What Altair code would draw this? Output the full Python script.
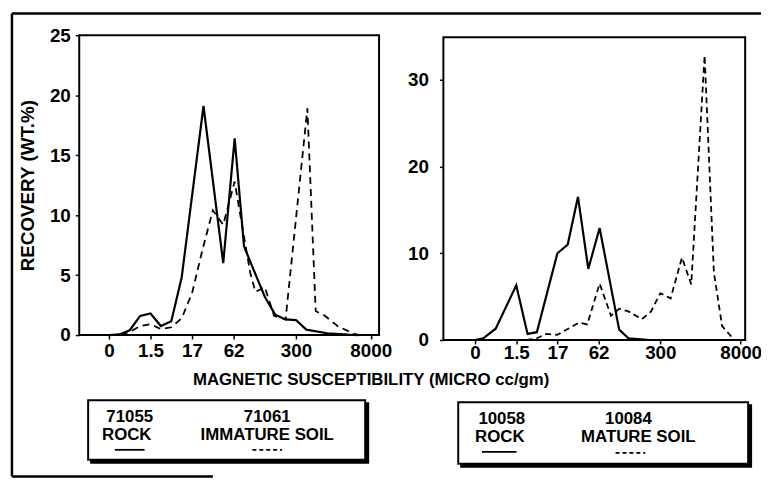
import altair as alt
import pandas as pd

# ---------------- data ----------------
tick_labels = ["0", "1.5", "17", "62", "300", "8000"]
tick_pos_left = [0, 2, 4, 6, 9, 12.6]
tick_pos_right = [0, 2, 4, 6, 9, 12.9]

# left panel: 71055 rock (solid), 71061 immature soil (dashed)
left_rock_u = [0, 0.5, 1, 1.5, 2, 2.5, 3, 3.5, 4.55, 5.5, 6.05, 6.5, 6.95, 7.5, 8, 8.5, 9, 9.5, 10.5, 11.5, 12]
left_rock_y = [0, 0.05, 0.4, 1.6, 1.8, 0.75, 1.15, 4.8, 19.1, 6.0, 16.4, 7.4, 5.5, 3.2, 1.7, 1.3, 1.25, 0.45, 0.15, 0.03, 0]
left_soil_u = [0, 0.5, 1, 1.5, 2, 2.5, 3, 3.5, 4, 4.5, 5.0, 5.5, 6.05, 6.45, 6.8, 7.05, 7.5, 7.95, 8.5, 9.55, 9.95, 10.4, 11, 11.8, 12.05]
left_soil_y = [0, 0, 0.25, 0.75, 0.9, 0.5, 0.65, 1.4, 3.5, 7.1, 10.4, 9.2, 12.8, 8.7, 5.2, 3.6, 4.0, 1.6, 1.3, 18.9, 2.0, 1.6, 0.75, 0.1, 0]

# right panel: 10058 rock (solid), 10084 mature soil (dashed)
right_rock_u = [0, 0.4, 1.0, 2.0, 2.55, 3.0, 4.0, 4.5, 5.0, 5.5, 6.05, 7.0, 7.45, 8.5, 9.0]
right_rock_y = [0, 0.2, 1.3, 6.3, 0.7, 0.9, 10.0, 11.0, 16.5, 8.2, 12.9, 1.2, 0.2, 0, 0]
right_soil_u = [2.5, 3.0, 3.45, 4.0, 5.05, 5.45, 6.05, 6.6, 7.0, 7.45, 8.1, 8.55, 9.0, 9.5, 10.05, 10.5, 11.15, 11.6, 12.0, 12.6]
right_soil_y = [0, 0.2, 0.7, 0.6, 2.0, 1.8, 6.5, 2.8, 3.6, 3.3, 2.4, 3.3, 5.4, 4.8, 9.5, 6.4, 32.8, 7.8, 1.6, 0]

left_yticks = [0, 5, 10, 15, 20, 25]
right_yticks = [0, 10, 20, 30]

y_title = "RECOVERY (WT.%)"
x_title = "MAGNETIC SUSCEPTIBILITY (MICRO cc/gm)"
legend_left = ["71055", "ROCK", "71061", "IMMATURE SOIL"]
legend_right = ["10058", "ROCK", "10084", "MATURE SOIL"]

# ---------------- layout / style ----------------
FONT = "Liberation Sans"
W, H = 761, 475
one = pd.DataFrame({"a": [0]})


def label_expr(pos, labels):
    expr = "''"
    for p, l in reversed(list(zip(pos, labels))):
        expr = f"datum.value == {p} ? '{l}' : ({expr})"
    return expr


def panel(ru, ry, su, sy, xdom, xrng, ydom, yrng, yvals, tpos, xoff, yoff,
          ylabpad, xlabpad, dash):
    xs = alt.Scale(domain=xdom, range=xrng, nice=False, zero=False)
    ys = alt.Scale(domain=ydom, range=yrng, nice=False, zero=False)
    xa = alt.Axis(orient="bottom", offset=xoff, values=tpos,
                  labelExpr=label_expr(tpos, tick_labels), title=None,
                  domain=False, grid=False, tickSize=4, tickWidth=1.5,
                  tickColor="black", labelFont=FONT, labelFontWeight="bold",
                  labelFontSize=19, labelColor="black", labelPadding=xlabpad,
                  labelFlush=False, labelOverlap=False)
    ya = alt.Axis(orient="left", offset=yoff, values=yvals, title=None,
                  domain=False, grid=False, tickSize=4, tickWidth=1.5,
                  tickColor="black", labelFont=FONT, labelFontWeight="bold",
                  labelFontSize=19, labelColor="black", labelPadding=ylabpad,
                  labelFlush=False, labelOverlap=False)
    rock = alt.Chart(pd.DataFrame({"u": ru, "y": ry})).mark_line(
        color="black", strokeWidth=2.2).encode(
        x=alt.X("u:Q", scale=xs, axis=xa),
        y=alt.Y("y:Q", scale=ys, axis=ya))
    soil = alt.Chart(pd.DataFrame({"u": su, "y": sy})).mark_line(
        color="black", strokeWidth=1.8, strokeDash=dash).encode(
        x=alt.X("u:Q", scale=xs, axis=xa),
        y=alt.Y("y:Q", scale=ys, axis=ya))
    return alt.layer(rock, soil)


left = panel(left_rock_u, left_rock_y, left_soil_u, left_soil_y,
             [-1.43, 13.0], [72, 375], [0, 25], [328, 25], left_yticks,
             tick_pos_left, 328 - H, -72, 5, 3, [7, 5])
right = panel(right_rock_u, right_rock_y, right_soil_u, right_soil_y,
              [-1.54, 13.12], [440, 745], [0, 34.9], [333, 27], right_yticks,
              tick_pos_right, 333 - H, -440, 11, 0, [6, 4])


def box(x1, x2, y1, y2, sw=2.0, fill=None):
    kw = dict(stroke="black", strokeWidth=sw)
    if fill is None:
        kw["fillOpacity"] = 0
        kw["fill"] = "white"
    else:
        kw["fill"] = fill
    return alt.Chart(one).mark_rect(**kw).encode(
        x=alt.value(x1), x2=alt.value(x2), y=alt.value(y1), y2=alt.value(y2))


def hline(x1, x2, y, sw=2.0, dash=None):
    kw = dict(color="black", strokeWidth=sw)
    if dash:
        kw["strokeDash"] = dash
    return alt.Chart(one).mark_rule(**kw).encode(
        x=alt.value(x1), x2=alt.value(x2), y=alt.value(y))


def vline(x, y1, y2, sw=2.0):
    return alt.Chart(one).mark_rule(color="black", strokeWidth=sw).encode(
        x=alt.value(x), y=alt.value(y1), y2=alt.value(y2))


def text(s, x, y, size=17, angle=0):
    kw = dict(font=FONT, fontWeight="bold", fontSize=size, color="black",
              align="center", baseline="middle")
    if angle:
        kw["angle"] = angle
    return alt.Chart(one).mark_text(**kw).encode(
        x=alt.value(x), y=alt.value(y), text=alt.value(s))


frames = [
    box(72, 375, 25, 328, 2.0),
    box(440, 745, 27, 333, 2.0),
    # outer figure border (partial, as scanned)
    hline(4, 761, 3, 2.5),
    vline(4, 3, 471, 2.5),
    hline(4, 207, 471, 2.5),
]

titles = [
    text(x_title, 367, 373, 17),
    text(y_title, 20, 177, 19, angle=270),
]

legends = [
    box(84, 364, 397, 457, 2.0, fill="black"),
    box(81, 361, 394, 454, 2.0, fill="white"),
    text(legend_left[0], 123, 411), text(legend_left[1], 120, 429),
    text(legend_left[2], 262, 411), text(legend_left[3], 262, 429),
    hline(108, 138, 444, 1.8),
    hline(247, 277, 444, 1.8, dash=[4, 3]),
    box(458, 751, 399, 461, 2.0, fill="black"),
    box(455, 748, 396, 458, 2.0, fill="white"),
    text(legend_right[0], 499, 413), text(legend_right[1], 497, 431),
    text(legend_right[2], 627, 413), text(legend_right[3], 637, 431),
    hline(479, 514, 446, 1.8),
    hline(614, 644, 447, 1.8, dash=[4, 3]),
]

chart = alt.layer(left, right, *frames, *titles, *legends).resolve_scale(
    x="independent", y="independent").resolve_axis(
    x="independent", y="independent").properties(
    width=W, height=H, padding=0,
    autosize=alt.AutoSizeParams(type="none"),
    background="white").configure_view(stroke=None)

chart.save("out.html", embed_options={"renderer": "svg", "actions": False})
